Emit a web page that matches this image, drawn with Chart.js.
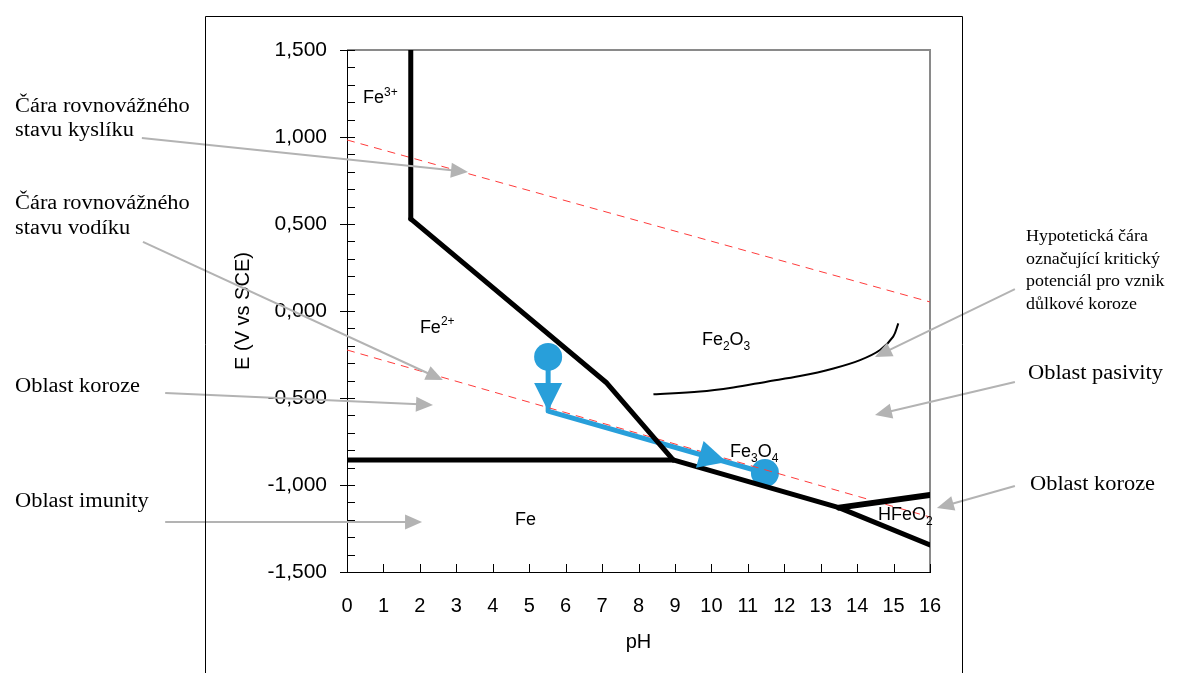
<!DOCTYPE html>
<html>
<head>
<meta charset="utf-8">
<script src="https://cdn.jsdelivr.net/npm/chart.js@4.4.1/dist/chart.umd.min.js"></script>
<style>
  body { margin: 0; background: #fff; }
  canvas { display: block; }
</style>
</head>
<body>
<canvas id="pourbaix" width="1182" height="673"></canvas>
<script>
/* --------------- Data : pH / E (V vs SCE) --------------------- */
const fe3Ph = [1.75, 1.75];
const fe3E = [1.5, 0.529];
const fe2Ph = [1.75, 7.13, 8.95];
const fe2E = [0.529, -0.414, -0.856];
const feHorizPh = [0, 8.95];
const feHorizE = [-0.856, -0.856];
const fe3o4Ph = [8.95, 13.5, 16];
const fe3o4E = [-0.856, -1.13, -1.345];
const hfeo2Ph = [13.5, 16];
const hfeo2E = [-1.13, -1.057];

const oxygenPh = [0, 16];
const oxygenE = [0.983, 0.052];
const hydrogenPh = [0, 16];
const hydrogenE = [-0.224, -1.184];

const pittingPh = [8.41, 9.69, 10.6, 11.52, 12.43, 13.35, 14.08, 14.63, 14.99, 15.13];
const pittingE = [-0.479, -0.463, -0.439, -0.406, -0.374, -0.33, -0.282, -0.224, -0.147, -0.071];

const pathPh = [5.52, 5.52, 11.47];
const pathE = [-0.264, -0.575, -0.931];
// arrow heads on the blue path: from -> tip
const pathArrowFromPh = [5.52, 5.52];
const pathArrowFromE = [-0.264, -0.575];
const pathArrowTipPh = [5.52, 10.42];
const pathArrowTipE = [-0.575, -0.868];

/* --------------- Region names --------------------- */
const regionNames = ["Fe^{3+}", "Fe^{2+}", "Fe_{2}O_{3}", "Fe_{3}O_{4}", "Fe", "HFeO_{2}"];
const regionPh = [0.44, 2.0, 9.74, 10.51, 4.61, 14.57];
const regionE = [1.195, -0.126, -0.195, -0.839, -1.23, -1.201];

/* --------------- Grey pointer arrows --------------------- */
const noteFromPh = [-5.63, -5.6, -4.99, -4.99, 18.33, 18.33, 18.33];
const noteFromE = [0.994, 0.397, -0.471, -1.213, 0.126, -0.408, -1.006];
const noteToPh = [3.32, 2.63, 2.36, 2.06, 14.49, 14.49, 16.19];
const noteToE = [0.799, -0.397, -0.54, -1.213, -0.264, -0.598, -1.132];

/* --------------- Notes text (page layout, px) --------------------- */
const notes = [
  { lines: ["Čára rovnovážného", "stavu kyslíku"], x: 15, y: 112, size: 20, gap: 24 },
  { lines: ["Čára rovnovážného", "stavu vodíku"], x: 15, y: 209, size: 20, gap: 25 },
  { lines: ["Oblast koroze"], x: 15, y: 392, size: 20, gap: 0 },
  { lines: ["Oblast imunity"], x: 15, y: 507, size: 20, gap: 0 },
  { lines: ["Hypotetická čára", "označující kritický", "potenciál pro vznik", "důlkové koroze"], x: 1026, y: 241, size: 16, gap: 22.5 },
  { lines: ["Oblast pasivity"], x: 1028, y: 379, size: 20, gap: 0 },
  { lines: ["Oblast koroze"], x: 1030, y: 490, size: 20, gap: 0 },
];

const toPoints = (xs, ys) => xs.map((x, i) => ({ x: x, y: ys[i] }));
const isMajor = (v) => Math.abs(v * 2 - Math.round(v * 2)) < 1e-6;
const SANS = '"Liberation Sans", Arial, Helvetica, sans-serif';
const SERIF = '"Liberation Serif", "Times New Roman", serif';
const BLUE = "#289FDA";

function boundary(xs, ys, width) {
  return {
    data: toPoints(xs, ys),
    showLine: true,
    borderColor: "#000",
    borderWidth: width,
    pointRadius: 0,
    borderJoinStyle: "round",
    borderCapStyle: "round",
  };
}

function arrowHead(ctx, x0, y0, x1, y1, len, half) {
  const a = Math.atan2(y1 - y0, x1 - x0);
  ctx.beginPath();
  ctx.moveTo(x1, y1);
  ctx.lineTo(x1 - len * Math.cos(a) + half * Math.sin(a), y1 - len * Math.sin(a) - half * Math.cos(a));
  ctx.lineTo(x1 - len * Math.cos(a) - half * Math.sin(a), y1 - len * Math.sin(a) + half * Math.cos(a));
  ctx.closePath();
  ctx.fill();
}

function drawRich(ctx, x, y, label, size) {
  const re = /\^\{([^}]*)\}|_\{([^}]*)\}|([^_^]+)/g;
  let m, cx = x;
  while ((m = re.exec(label))) {
    let t = m[3], dy = 0, fs = size;
    if (m[1] !== undefined) { t = m[1]; dy = -size * 0.42; fs = Math.round(size * 0.68); }
    if (m[2] !== undefined) { t = m[2]; dy = size * 0.3; fs = Math.round(size * 0.68); }
    ctx.font = fs + "px " + SANS;
    ctx.fillText(t, cx, y + dy);
    cx += ctx.measureText(t).width;
  }
}

/* --------------- Extra drawing --------------------- */
const decorations = {
  id: "decorations",
  beforeDatasetsDraw(chart) {
    const { ctx, chartArea, scales } = chart;
    const sx = scales.x, sy = scales.y;
    ctx.save();
    // frame of the plot: grey top and right
    ctx.strokeStyle = "#8a8a8a";
    ctx.lineWidth = 2;
    ctx.beginPath();
    ctx.moveTo(chartArea.left, chartArea.top);
    ctx.lineTo(chartArea.right, chartArea.top);
    ctx.lineTo(chartArea.right, chartArea.bottom);
    ctx.stroke();
    // inner tick marks
    ctx.strokeStyle = "#000";
    ctx.lineWidth = 1;
    ctx.beginPath();
    sy.ticks.forEach((t) => {
      const py = Math.round(sy.getPixelForValue(t.value)) + 0.5;
      ctx.moveTo(chartArea.left, py);
      ctx.lineTo(chartArea.left + 8, py);
    });
    sx.ticks.forEach((t) => {
      const px = Math.round(sx.getPixelForValue(t.value)) + 0.5;
      ctx.moveTo(px, chartArea.bottom);
      ctx.lineTo(px, chartArea.bottom - 8);
    });
    ctx.stroke();
    ctx.restore();
  },
  afterDatasetsDraw(chart) {
    const { ctx, scales } = chart;
    const sx = scales.x, sy = scales.y;
    ctx.save();
    // arrow heads on the blue path
    ctx.fillStyle = BLUE;
    pathArrowTipPh.forEach((ph, i) => {
      arrowHead(ctx,
        sx.getPixelForValue(pathArrowFromPh[i]), sy.getPixelForValue(pathArrowFromE[i]),
        sx.getPixelForValue(ph), sy.getPixelForValue(pathArrowTipE[i]), 28, 14);
    });
    // region names
    ctx.fillStyle = "#000";
    ctx.textBaseline = "alphabetic";
    ctx.textAlign = "left";
    regionNames.forEach((name, i) => {
      drawRich(ctx, sx.getPixelForValue(regionPh[i]), sy.getPixelForValue(regionE[i]), name, 18);
    });
    // grey pointer arrows
    ctx.strokeStyle = "#b3b3b3";
    ctx.fillStyle = "#b3b3b3";
    ctx.lineWidth = 2;
    noteToPh.forEach((ph, i) => {
      const x0 = sx.getPixelForValue(noteFromPh[i]), y0 = sy.getPixelForValue(noteFromE[i]);
      const x1 = sx.getPixelForValue(ph), y1 = sy.getPixelForValue(noteToE[i]);
      const a = Math.atan2(y1 - y0, x1 - x0);
      ctx.beginPath();
      ctx.moveTo(x0, y0);
      ctx.lineTo(x1 - 14 * Math.cos(a), y1 - 14 * Math.sin(a));
      ctx.stroke();
      arrowHead(ctx, x0, y0, x1, y1, 17, 7.5);
    });
    ctx.restore();
  },
  afterDraw(chart) {
    const { ctx } = chart;
    ctx.save();
    // outer page frame
    ctx.strokeStyle = "#000";
    ctx.lineWidth = 1;
    ctx.beginPath();
    ctx.moveTo(205.5, 673);
    ctx.lineTo(205.5, 16.5);
    ctx.lineTo(962.5, 16.5);
    ctx.lineTo(962.5, 673);
    ctx.stroke();
    // notes
    ctx.fillStyle = "#000";
    ctx.textAlign = "left";
    ctx.textBaseline = "alphabetic";
    notes.forEach((n) => {
      ctx.font = n.size + "px " + SERIF;
      n.lines.forEach((line, k) => {
        ctx.save();
        ctx.translate(n.x, n.y + k * n.gap);
        ctx.scale(1.12, 1);
        ctx.fillText(line, 0, 0);
        ctx.restore();
      });
    });
    ctx.restore();
  },
};

/* --------------- Chart --------------------- */
new Chart(document.getElementById("pourbaix"), {
  type: "scatter",
  plugins: [decorations],
  data: {
    datasets: [
      boundary(fe3Ph, fe3E, 5),
      boundary(fe2Ph, fe2E, 5),
      boundary(feHorizPh, feHorizE, 5),
      boundary(fe3o4Ph, fe3o4E, 5),
      boundary(hfeo2Ph, hfeo2E, 6),
      {
        data: toPoints(oxygenPh, oxygenE),
        showLine: true,
        borderColor: "#ff3b3b",
        borderWidth: 1,
        borderDash: [8, 6],
        pointRadius: 0,
      },
      {
        data: toPoints(hydrogenPh, hydrogenE),
        showLine: true,
        borderColor: "#ff3b3b",
        borderWidth: 1,
        borderDash: [8, 6],
        pointRadius: 0,
      },
      {
        data: toPoints(pittingPh, pittingE),
        showLine: true,
        borderColor: "#000",
        borderWidth: 2,
        tension: 0.35,
        pointRadius: 0,
      },
      {
        data: toPoints(pathPh, pathE),
        showLine: true,
        borderColor: BLUE,
        borderWidth: 5,
        borderJoinStyle: "round",
        pointRadius: [14, 0, 14],
        pointBackgroundColor: BLUE,
        pointBorderWidth: 0,
      },
    ],
  },
  options: {
    responsive: false,
    animation: false,
    layout: { padding: { left: 227, top: 50, right: 252, bottom: 15 } },
    plugins: {
      legend: { display: false },
      tooltip: { enabled: false },
    },
    scales: {
      x: {
        type: "linear",
        min: 0,
        max: 16,
        afterFit: (scale) => { scale.height = 86; },
        ticks: { stepSize: 1, color: "#000", padding: 22, font: { family: SANS, size: 20 } },
        grid: { drawOnChartArea: false, drawTicks: false },
        border: { color: "#000", width: 1 },
        title: { display: true, text: "pH", color: "#000", font: { family: SANS, size: 20 } },
      },
      y: {
        type: "linear",
        min: -1.5,
        max: 1.5,
        afterFit: (scale) => { scale.width = 120; },
        ticks: {
          stepSize: 0.1,
          autoSkip: false,
          color: "#000",
          padding: 13,
          font: { family: SANS, size: 21 },
          callback: (v) => {
            if (!isMajor(v)) return "";
            const r = Math.round(v * 2) / 2;
            return (r === 0 ? 0 : r).toFixed(3).replace(".", ",");
          },
        },
        grid: {
          drawOnChartArea: false,
          tickLength: 7,
          tickColor: (ctx) => (ctx.tick && isMajor(ctx.tick.value) ? "#000" : "rgba(0,0,0,0)"),
        },
        border: { color: "#000", width: 1 },
        title: { display: true, text: "E (V vs SCE)", color: "#000", font: { family: SANS, size: 20 } },
      },
    },
  },
});
</script>
</body>
</html>
